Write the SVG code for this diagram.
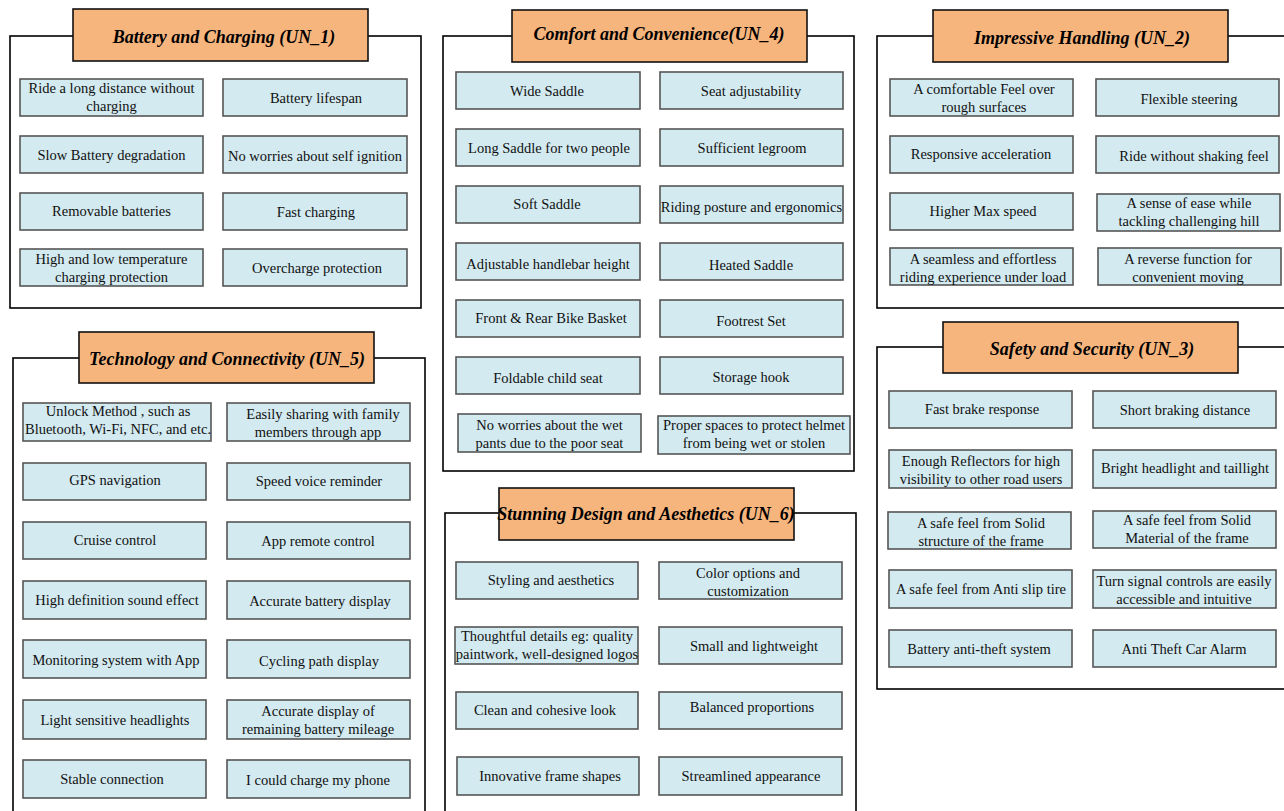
<svg xmlns="http://www.w3.org/2000/svg" width="1284" height="811" viewBox="0 0 1284 811">
<style>
.panel{fill:#ffffff;stroke:#000;stroke-width:1.6}
.title{fill:#F7B57E;stroke:#111;stroke-width:1.6}
.tt{font-family:"Liberation Serif","Times New Roman",serif;font-size:18px;font-weight:bold;font-style:italic;fill:#000;text-anchor:middle}
.item{fill:#D3EAF0;stroke:#555;stroke-width:1.6}
.it{font-family:"Liberation Serif","Times New Roman",serif;font-size:14.5px;fill:#111;text-anchor:middle}
</style>
<rect width="1284" height="811" fill="#fff"/>

<!-- Panel UN_1 -->
<g id="panel-un1">
<rect class="panel" x="10" y="36" width="411" height="272"/>
<rect class="title" x="73" y="9" width="295" height="52"/>
<text class="tt" x="224" y="43">Battery and Charging (UN_1)</text>
</g>
<g id="un1-a"><rect class="item" x="20" y="79" width="183" height="37"/><text class="it" x="111.5" y="93">Ride a long distance without</text><text class="it" x="111.5" y="111">charging</text></g>
<g id="un1-b"><rect class="item" x="223" y="79" width="184" height="37"/><text class="it" x="316" y="103">Battery lifespan</text></g>
<g id="un1-c"><rect class="item" x="20" y="136" width="183" height="37"/><text class="it" x="111.5" y="160">Slow Battery degradation</text></g>
<g id="un1-d"><rect class="item" x="223" y="136" width="184" height="37"/><text class="it" x="315" y="161">No worries about self ignition</text></g>
<g id="un1-e"><rect class="item" x="20" y="193" width="183" height="37"/><text class="it" x="111.5" y="216">Removable batteries</text></g>
<g id="un1-f"><rect class="item" x="223" y="193" width="184" height="37"/><text class="it" x="316" y="217">Fast charging</text></g>
<g id="un1-g"><rect class="item" x="20" y="249" width="183" height="37"/><text class="it" x="111.5" y="264">High and low temperature</text><text class="it" x="111.5" y="282">charging protection</text></g>
<g id="un1-h"><rect class="item" x="223" y="249" width="184" height="37"/><text class="it" x="317" y="273">Overcharge protection</text></g>

<!-- Panel UN_4 -->
<g id="panel-un4">
<rect class="panel" x="443" y="36" width="411" height="435"/>
<rect class="title" x="512" y="10" width="295" height="52"/>
<text class="tt" x="659" y="40">Comfort and Convenience(UN_4)</text>
</g>
<g id="un4-a"><rect class="item" x="456" y="72" width="184" height="37"/><text class="it" x="547" y="96">Wide Saddle</text></g>
<g id="un4-b"><rect class="item" x="660" y="72" width="183" height="37"/><text class="it" x="751" y="96">Seat adjustability</text></g>
<g id="un4-c"><rect class="item" x="456" y="129" width="184" height="37"/><text class="it" x="549" y="153">Long Saddle for two people</text></g>
<g id="un4-d"><rect class="item" x="660" y="129" width="183" height="37"/><text class="it" x="752" y="153">Sufficient legroom</text></g>
<g id="un4-e"><rect class="item" x="456" y="186" width="184" height="37"/><text class="it" x="547" y="209">Soft Saddle</text></g>
<g id="un4-f"><rect class="item" x="660" y="186" width="183" height="37"/><text class="it" x="751.5" y="212">Riding posture and ergonomics</text></g>
<g id="un4-g"><rect class="item" x="456" y="243" width="184" height="37"/><text class="it" x="548" y="269">Adjustable handlebar height</text></g>
<g id="un4-h"><rect class="item" x="660" y="243" width="183" height="37"/><text class="it" x="751" y="270">Heated Saddle</text></g>
<g id="un4-i"><rect class="item" x="456" y="300" width="184" height="37"/><text class="it" x="551" y="323">Front &amp; Rear Bike Basket</text></g>
<g id="un4-j"><rect class="item" x="660" y="300" width="183" height="37"/><text class="it" x="751" y="326">Footrest Set</text></g>
<g id="un4-k"><rect class="item" x="456" y="357" width="184" height="37"/><text class="it" x="548" y="383">Foldable child seat</text></g>
<g id="un4-l"><rect class="item" x="660" y="357" width="183" height="37"/><text class="it" x="751" y="382">Storage hook</text></g>
<g id="un4-m"><rect class="item" x="458" y="414" width="183" height="38"/><text class="it" x="549.5" y="430">No worries about the wet</text><text class="it" x="549.5" y="448">pants due to the poor seat</text></g>
<g id="un4-n"><rect class="item" x="658" y="416" width="192" height="38"/><text class="it" x="754" y="430">Proper spaces to protect helmet</text><text class="it" x="754" y="448">from being wet or stolen</text></g>

<!-- Panel UN_2 -->
<g id="panel-un2">
<rect class="panel" x="877" y="36" width="430" height="272"/>
<rect class="title" x="933" y="10" width="295" height="52"/>
<text class="tt" x="1082" y="44">Impressive Handling (UN_2)</text>
</g>
<g id="un2-a"><rect class="item" x="890" y="79" width="183" height="37"/><text class="it" x="984" y="94">A comfortable Feel over</text><text class="it" x="984" y="112">rough surfaces</text></g>
<g id="un2-b"><rect class="item" x="1096" y="79" width="183" height="37"/><text class="it" x="1189" y="104">Flexible steering</text></g>
<g id="un2-c"><rect class="item" x="890" y="136" width="183" height="37"/><text class="it" x="981" y="159">Responsive acceleration</text></g>
<g id="un2-d"><rect class="item" x="1096" y="136" width="183" height="37"/><text class="it" x="1194" y="161">Ride without shaking feel</text></g>
<g id="un2-e"><rect class="item" x="890" y="193" width="183" height="37"/><text class="it" x="983" y="216">Higher Max speed</text></g>
<g id="un2-f"><rect class="item" x="1097" y="194" width="183" height="37"/><text class="it" x="1189" y="208">A sense of ease while</text><text class="it" x="1189" y="226">tackling challenging hill</text></g>
<g id="un2-g"><rect class="item" x="890" y="248" width="183" height="37"/><text class="it" x="983" y="264">A seamless and effortless</text><text class="it" x="983" y="282">riding experience under load</text></g>
<g id="un2-h"><rect class="item" x="1098" y="248" width="183" height="37"/><text class="it" x="1188" y="264">A reverse function for</text><text class="it" x="1188" y="282">convenient moving</text></g>

<!-- Panel UN_5 -->
<g id="panel-un5">
<rect class="panel" x="13" y="358" width="412" height="480"/>
<rect class="title" x="79" y="332" width="295" height="51"/>
<text class="tt" x="227" y="365">Technology and Connectivity (UN_5)</text>
</g>
<g id="un5-a"><rect class="item" x="23" y="403" width="188" height="38"/><text class="it" x="118" y="416">Unlock Method , such as</text><text class="it" x="118" y="434">Bluetooth, Wi-Fi, NFC, and etc.</text></g>
<g id="un5-b"><rect class="item" x="227" y="403" width="183" height="38"/><text class="it" x="323" y="419">Easily sharing with family</text><text class="it" x="318" y="437">members through app</text></g>
<g id="un5-c"><rect class="item" x="23" y="463" width="183" height="37"/><text class="it" x="115" y="485">GPS navigation</text></g>
<g id="un5-d"><rect class="item" x="227" y="463" width="183" height="37"/><text class="it" x="319" y="486">Speed voice reminder</text></g>
<g id="un5-e"><rect class="item" x="23" y="522" width="183" height="37"/><text class="it" x="115" y="545">Cruise control</text></g>
<g id="un5-f"><rect class="item" x="227" y="522" width="183" height="37"/><text class="it" x="318" y="546">App remote control</text></g>
<g id="un5-g"><rect class="item" x="23" y="581" width="183" height="38"/><text class="it" x="117" y="605">High definition sound effect</text></g>
<g id="un5-h"><rect class="item" x="227" y="581" width="183" height="38"/><text class="it" x="320" y="606">Accurate battery display</text></g>
<g id="un5-i"><rect class="item" x="23" y="640" width="183" height="38"/><text class="it" x="116" y="665">Monitoring system with App</text></g>
<g id="un5-j"><rect class="item" x="227" y="640" width="183" height="38"/><text class="it" x="319" y="666">Cycling path display</text></g>
<g id="un5-k"><rect class="item" x="23" y="700" width="183" height="39"/><text class="it" x="115" y="725">Light sensitive headlights</text></g>
<g id="un5-l"><rect class="item" x="227" y="700" width="183" height="39"/><text class="it" x="318" y="716">Accurate display of</text><text class="it" x="318" y="734">remaining battery mileage</text></g>
<g id="un5-m"><rect class="item" x="23" y="760" width="183" height="38"/><text class="it" x="112" y="784">Stable connection</text></g>
<g id="un5-n"><rect class="item" x="227" y="760" width="183" height="38"/><text class="it" x="318" y="785">I could charge my phone</text></g>

<!-- Panel UN_6 -->
<g id="panel-un6">
<rect class="panel" x="445" y="513" width="411" height="320"/>
<rect class="title" x="499" y="488" width="295" height="52"/>
<text class="tt" x="646" y="520">Stunning Design and Aesthetics (UN_6)</text>
</g>
<g id="un6-a"><rect class="item" x="456" y="562" width="182" height="37"/><text class="it" x="551" y="585">Styling and aesthetics</text></g>
<g id="un6-b"><rect class="item" x="659" y="562" width="183" height="37"/><text class="it" x="748" y="578">Color options and</text><text class="it" x="748" y="596">customization</text></g>
<g id="un6-c"><rect class="item" x="455" y="627" width="183" height="37"/><text class="it" x="547" y="641">Thoughtful details eg: quality</text><text class="it" x="547" y="659">paintwork, well-designed logos</text></g>
<g id="un6-d"><rect class="item" x="659" y="627" width="183" height="37"/><text class="it" x="754" y="651">Small and lightweight</text></g>
<g id="un6-e"><rect class="item" x="456" y="692" width="182" height="37"/><text class="it" x="545" y="715">Clean and cohesive look</text></g>
<g id="un6-f"><rect class="item" x="659" y="692" width="183" height="37"/><text class="it" x="752" y="712">Balanced proportions</text></g>
<g id="un6-g"><rect class="item" x="457" y="757" width="182" height="38"/><text class="it" x="550" y="781">Innovative frame shapes</text></g>
<g id="un6-h"><rect class="item" x="659" y="757" width="183" height="38"/><text class="it" x="751" y="781">Streamlined appearance</text></g>

<!-- Panel UN_3 -->
<g id="panel-un3">
<rect class="panel" x="877" y="347" width="430" height="342"/>
<rect class="title" x="943" y="322" width="295" height="51"/>
<text class="tt" x="1092" y="355">Safety and Security (UN_3)</text>
</g>
<g id="un3-a"><rect class="item" x="889" y="391" width="183" height="37"/><text class="it" x="982" y="414">Fast brake response</text></g>
<g id="un3-b"><rect class="item" x="1093" y="391" width="183" height="37"/><text class="it" x="1185" y="415">Short braking distance</text></g>
<g id="un3-c"><rect class="item" x="889" y="450" width="183" height="38"/><text class="it" x="981" y="466">Enough Reflectors for high</text><text class="it" x="981" y="484">visibility to other road users</text></g>
<g id="un3-d"><rect class="item" x="1093" y="450" width="183" height="38"/><text class="it" x="1185" y="473">Bright headlight and taillight</text></g>
<g id="un3-e"><rect class="item" x="888" y="512" width="183" height="37"/><text class="it" x="981" y="528">A safe feel from Solid</text><text class="it" x="981" y="546">structure of the frame</text></g>
<g id="un3-f"><rect class="item" x="1093" y="511" width="183" height="37"/><text class="it" x="1187" y="525">A safe feel from Solid</text><text class="it" x="1187" y="543">Material of the frame</text></g>
<g id="un3-g"><rect class="item" x="889" y="570" width="183" height="38"/><text class="it" x="981" y="594">A safe feel from Anti slip tire</text></g>
<g id="un3-h"><rect class="item" x="1093" y="570" width="183" height="38"/><text class="it" x="1184" y="586">Turn signal controls are easily</text><text class="it" x="1184" y="604">accessible and intuitive</text></g>
<g id="un3-i"><rect class="item" x="889" y="630" width="183" height="37"/><text class="it" x="979" y="654">Battery anti-theft system</text></g>
<g id="un3-j"><rect class="item" x="1093" y="630" width="183" height="37"/><text class="it" x="1184" y="654">Anti Theft Car Alarm</text></g>

<g id="connectors"></g>
</svg>
